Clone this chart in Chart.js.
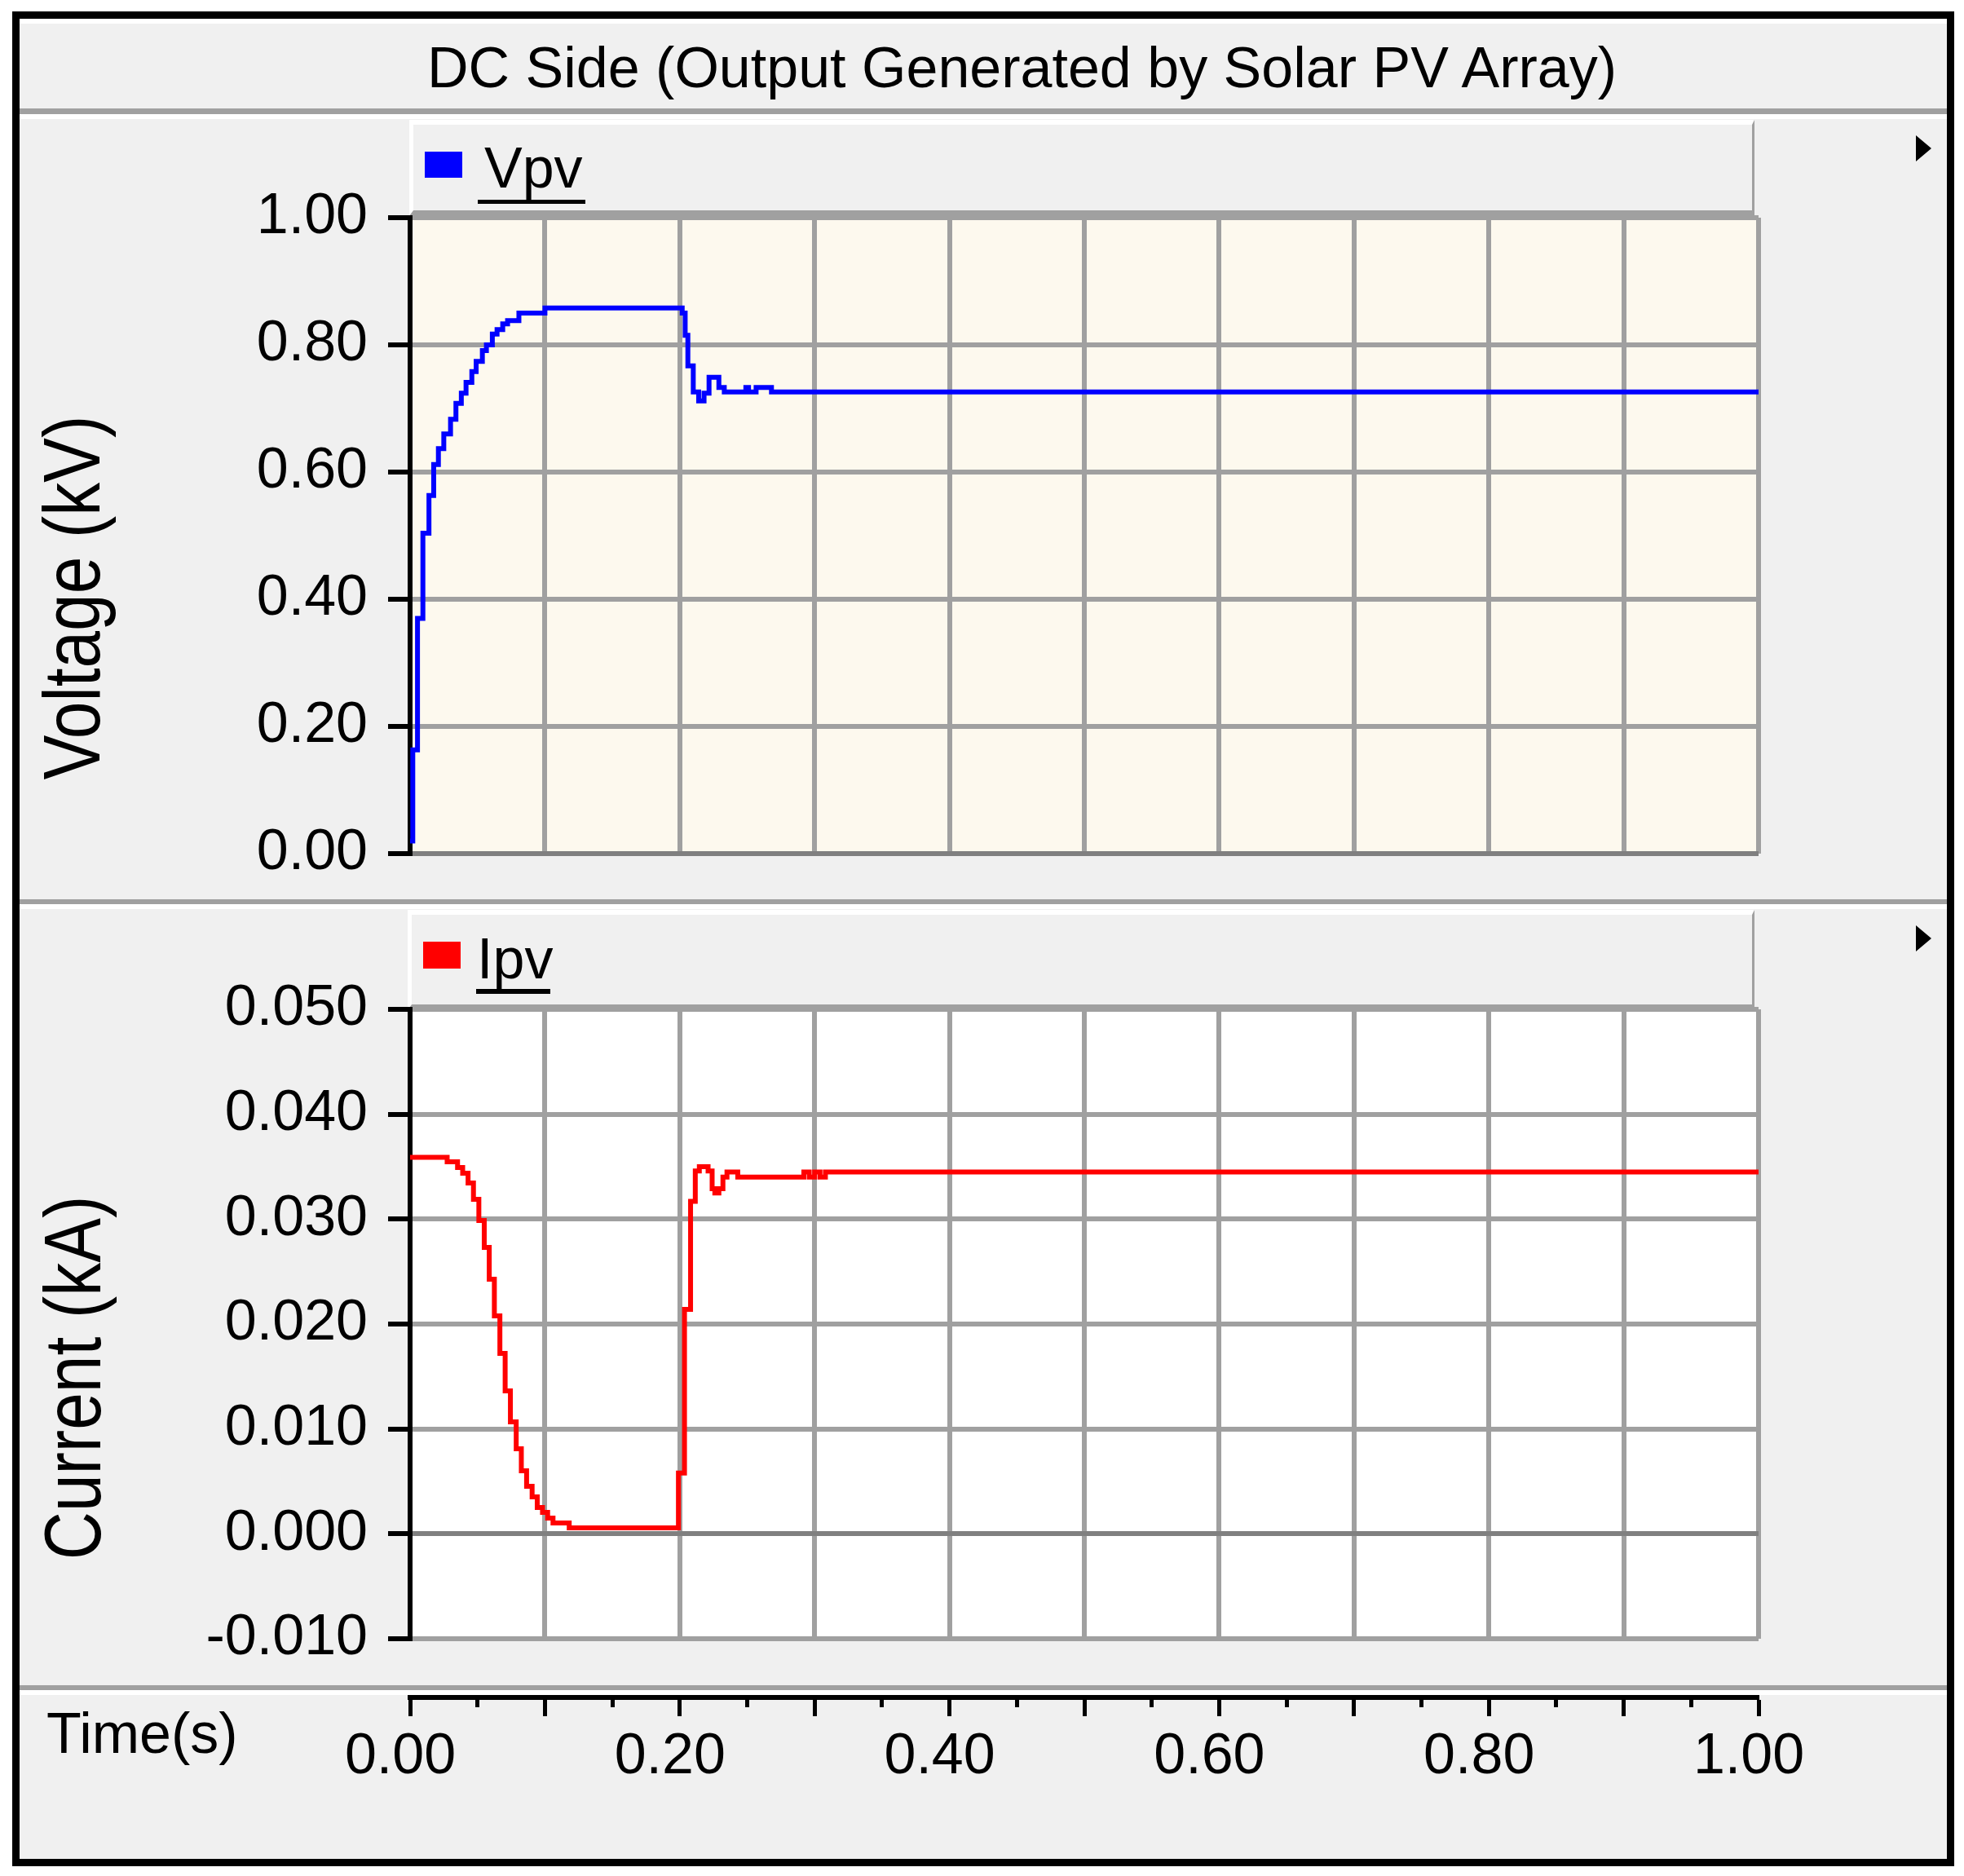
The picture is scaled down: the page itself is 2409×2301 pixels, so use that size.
<!DOCTYPE html>
<html>
<head>
<meta charset="utf-8">
<script src="https://cdn.jsdelivr.net/npm/chart.js@4.4.1/dist/chart.umd.min.js"></script>
<style>
  body { margin: 0; width: 2409px; height: 2301px; background: #fff; position: relative; overflow: hidden;
         font-family: "Liberation Sans", Arial, sans-serif; color: #000; }
  .abs { position: absolute; box-sizing: border-box; }
  #frame { left: 15px; top: 14px; width: 2382px; height: 2275px; border: 9px solid #000; background: #f0f0f0; }
  .bar { left: 24px; width: 2364px; }
  .txt { font-size: 70px; line-height: 70px; white-space: nowrap; }
  .legend { background: #f0f0f0; border-top: 6px solid #fff; border-left: 5px solid #fff;
            border-right: 3px solid #a0a0a0; border-bottom: 7px solid #a0a0a0; }
  .ytitle { width: 700px; height: 100px; line-height: 100px; text-align: center; font-size: 82px; white-space: nowrap;
            transform: translate(-50%, -50%) rotate(-90deg) scaleY(1.2); }
  .tri { width: 0; height: 0; border-left: 19px solid #000; border-top: 16px solid transparent; border-bottom: 16px solid transparent; }
  canvas { position: absolute; }
</style>
</head>
<body>
<div id="frame" class="abs"></div>
<!-- title bar -->
<div class="abs bar" style="top:23px;height:123px;background:#f0f0f0;border-top:6px solid #fff;border-bottom:6px solid #fff;"></div>
<div class="abs bar" style="top:133px;height:7px;background:#a0a0a0;"></div>
<div class="abs txt" style="left:524px;top:48px;">DC Side (Output Generated by Solar PV Array)</div>
<!-- panel separators -->
<div class="abs bar" style="top:1103px;height:6px;background:#a0a0a0;"></div>
<div class="abs bar" style="top:1109px;height:6px;background:#fff;"></div>
<div class="abs bar" style="top:2067px;height:6px;background:#a0a0a0;"></div>
<div class="abs bar" style="top:2073px;height:6px;background:#fff;"></div>
<!-- legend headers -->
<div class="abs legend" style="left:502px;top:147px;width:1650px;height:118px;"></div>
<div class="abs" id="sw0" style="left:521px;top:186px;width:46px;height:32px;"></div>
<div class="abs txt" id="lb0" style="left:594px;top:171px;"></div>
<div class="abs" style="left:586px;top:245px;width:132px;height:5px;background:#000;"></div>
<div class="abs legend" style="left:500px;top:1116px;width:1652px;height:123px;"></div>
<div class="abs" id="sw1" style="left:519px;top:1155px;width:46px;height:33px;"></div>
<div class="abs txt" id="lb1" style="left:585px;top:1141px;"></div>
<div class="abs" style="left:584px;top:1213px;width:91px;height:6px;background:#000;"></div>
<div class="abs tri" style="left:2350px;top:166px;"></div>
<div class="abs tri" style="left:2350px;top:1135px;"></div>
<!-- axis titles -->
<div class="abs ytitle" style="left:88px;top:733px;">Voltage (kV)</div>
<div class="abs ytitle" style="left:89px;top:1690px;">Current (kA)</div>
<div class="abs txt" style="left:57px;top:2091px;">Time(s)</div>

<canvas id="vChart" width="2160" height="900" style="left:25px;top:200px;"></canvas>
<canvas id="iChart" width="2160" height="900" style="left:25px;top:1170px;"></canvas>
<canvas id="tChart" width="2360" height="200" style="left:25px;top:2076px;"></canvas>

<script>
// Vpv (kV): each point starts a new held level
const vpvTime = [0, 0.002, 0.0055, 0.0095, 0.014, 0.0175, 0.021, 0.025, 0.030, 0.034, 0.038, 0.0415,
  0.0458, 0.049, 0.0536, 0.0566, 0.061, 0.0645, 0.0687, 0.0723, 0.0807, 0.100, 0.2018, 0.204, 0.206,
  0.210, 0.214, 0.218, 0.2217, 0.229, 0.233, 0.249, 0.251, 0.2566, 0.268, 1.0];
const vpvValue = [0.02, 0.163, 0.37, 0.504, 0.563, 0.612, 0.637, 0.66, 0.683, 0.708, 0.724, 0.741,
  0.758, 0.774, 0.791, 0.80, 0.817, 0.824, 0.833, 0.838, 0.850, 0.858, 0.850, 0.815, 0.767,
  0.726, 0.712, 0.724, 0.749, 0.733, 0.726, 0.733, 0.726, 0.733, 0.726, 0.726];

// Ipv (kA)
const ipvTime = [0, 0.0275, 0.0352, 0.039, 0.043, 0.047, 0.051, 0.055, 0.0587, 0.0625, 0.0666, 0.0705,
  0.0744, 0.0787, 0.0825, 0.0864, 0.0905, 0.0943, 0.0982, 0.102, 0.106, 0.118, 0.199, 0.2035, 0.208,
  0.2115, 0.2145, 0.221, 0.224, 0.226, 0.229, 0.232, 0.235, 0.243, 0.292, 0.296, 0.300, 0.304, 0.308, 1.0];
const ipvValue = [0.0359, 0.03546, 0.03492, 0.03437, 0.03344, 0.03189, 0.02987, 0.02731, 0.02427, 0.02078,
  0.0172, 0.01363, 0.01067, 0.00811, 0.00602, 0.00454, 0.00353, 0.00252, 0.00205, 0.00151, 0.00104,
  0.00057, 0.0058, 0.0214, 0.0317, 0.0346, 0.0350, 0.0346, 0.0329, 0.0325, 0.0329, 0.0340, 0.0345,
  0.0340, 0.0345, 0.0340, 0.0345, 0.0340, 0.0345, 0.0345];

const seriesLabels = ['Vpv', 'Ipv'];
const seriesColors = ['#0000ff', '#ff0000'];
const timeRange = [0, 1];
const voltRange = [0, 1], voltStep = 0.2;
const currRange = [-0.01, 0.05], currStep = 0.01;

const tickFont = { family: "'Liberation Sans', Arial, sans-serif", size: 70 };
const gridGray = '#a0a0a0';

// legend headers
seriesLabels.forEach((s, i) => {
  document.getElementById('lb' + i).textContent = s;
  document.getElementById('sw' + i).style.background = seriesColors[i];
});

const plotBg = {
  id: 'plotBg',
  beforeDraw(chart, args, opts) {
    const a = chart.chartArea, ctx = chart.ctx;
    ctx.save();
    ctx.fillStyle = opts.color;
    ctx.fillRect(a.left, a.top, a.right - a.left, a.bottom - a.top);
    ctx.restore();
  }
};

function near(v, step) {
  return Math.abs(v / step - Math.round(v / step)) < 1e-6;
}

function makePlot(id, label, color, times, values, yRange, yStep, digits, bg, pad) {
  return new Chart(document.getElementById(id), {
    type: 'line',
    data: {
      datasets: [{
        label: label,
        data: times.map((t, i) => ({ x: t, y: values[i] })),
        borderColor: color,
        borderWidth: 6,
        stepped: true,
        pointRadius: 0,
        fill: false,
        borderCapStyle: 'butt',
        borderJoinStyle: 'miter'
      }]
    },
    options: {
      responsive: false,
      animation: false,
      layout: { padding: pad },
      plugins: { legend: { display: false }, tooltip: { enabled: false }, plotBg: { color: bg } },
      scales: {
        x: {
          type: 'linear', min: timeRange[0], max: timeRange[1],
          ticks: { display: false, stepSize: 0.1 },
          grid: {
            color: c => (Math.abs(c.tick.value) < 1e-9 ? 'rgba(0,0,0,0)' : gridGray),
            lineWidth: 6, drawTicks: false
          },
          border: { display: false },
          afterFit: s => { s.height = 0; s.paddingLeft = 0; s.paddingRight = 0; }
        },
        y: {
          min: yRange[0], max: yRange[1],
          ticks: {
            stepSize: yStep, color: '#000', font: tickFont, padding: 25,
            callback: v => v.toFixed(digits)
          },
          grid: {
            color: c => (Math.abs(c.tick.value) < 1e-9 ? '#808080' : gridGray),
            lineWidth: 6, tickColor: '#000', tickLength: 27, tickWidth: 6
          },
          border: { color: '#000', width: 6 },
          afterFit: s => { s.width = 478; s.paddingTop = 0; s.paddingBottom = 0; }
        }
      }
    },
    plugins: [plotBg]
  });
}

// chart areas: top plot y 267..1047, bottom plot y 1238..2010, x 503..2157 (page px)
makePlot('vChart', seriesLabels[0], seriesColors[0], vpvTime, vpvValue, voltRange, voltStep, 2, '#fdf9ee',
  { left: 0, right: 28, top: 67, bottom: 53 });
makePlot('iChart', seriesLabels[1], seriesColors[1], ipvTime, ipvValue, currRange, currStep, 3, '#ffffff',
  { left: 0, right: 28, top: 68, bottom: 60 });

// shared time axis strip
new Chart(document.getElementById('tChart'), {
  type: 'line',
  data: { datasets: [] },
  options: {
    responsive: false,
    animation: false,
    layout: { padding: { left: 478, right: 228, top: 0, bottom: 0 } },
    plugins: { legend: { display: false }, tooltip: { enabled: false } },
    scales: {
      x: {
        type: 'linear', position: 'bottom', min: timeRange[0], max: timeRange[1],
        ticks: {
          stepSize: 0.05, autoSkip: false, maxRotation: 0, color: '#000', font: tickFont,
          padding: 9, labelOffset: -12,
          callback: v => (near(v, 0.2) ? v.toFixed(2) : '')
        },
        grid: {
          drawOnChartArea: false, tickLength: 23, tickWidth: 5, tickColor: '#000',
          tickBorderDash: c => (near(c.tick.value, 0.1) ? [] : [9, 100])
        },
        border: { color: '#000', width: 6 },
        afterFit: s => { s.height = 194; s.paddingLeft = 0; s.paddingRight = 0; }
      },
      y: { display: false, min: 0, max: 1 }
    }
  }
});
</script>
</body>
</html>
